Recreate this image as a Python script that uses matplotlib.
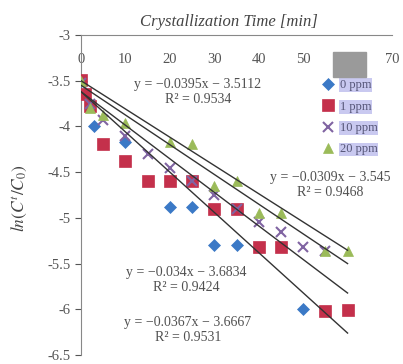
import numpy as np
import matplotlib
matplotlib.use('Agg')
import matplotlib.pyplot as plt
from matplotlib.patches import Rectangle

plt.rcParams['font.family'] = ['Liberation Serif', 'DejaVu Serif']
plt.rcParams['mathtext.fontset'] = 'stix'
plt.rcParams['axes.unicode_minus'] = False

# series (time in min, ln(Ct/C0))
t_0ppm = [0, 3, 10, 20, 25, 30, 35, 50]
v_0ppm = [-3.5, -4.0, -4.17, -4.88, -4.88, -5.3, -5.3, -6.0]

t_1ppm = [0, 1, 2, 5, 10, 15, 20, 25, 30, 35, 40, 45, 55, 60]
v_1ppm = [-3.49, -3.65, -3.78, -4.19, -4.38, -4.6, -4.6, -4.6, -4.9, -4.9,
          -5.32, -5.32, -6.02, -6.01]

t_10ppm = [0, 2, 5, 10, 15, 20, 25, 30, 35, 40, 45, 50, 55]
v_10ppm = [-3.52, -3.75, -3.93, -4.1, -4.3, -4.45, -4.6, -4.75, -4.9,
           -5.05, -5.15, -5.32, -5.36]

t_20ppm = [0, 2, 5, 10, 20, 25, 30, 35, 40, 45, 55, 60]
v_20ppm = [-3.5, -3.8, -3.87, -3.96, -4.17, -4.19, -4.65, -4.6, -4.95,
           -4.95, -5.36, -5.36]

labels = ['0 ppm', '1 ppm', '10 ppm', '20 ppm']

# trendlines as they sit in the picture (slope, intercept), drawn 0..60 min
trend_slope = [-0.044, -0.0367, -0.0325, -0.0309]
trend_icpt = [-3.62, -3.62, -3.55, -3.5]
trend_span = [0, 60]

eq_texts = ['y = \u22120.0395x \u2212 3.5112\nR\u00b2 = 0.9534',
            'y = \u22120.0309x \u2212 3.545\nR\u00b2 = 0.9468',
            'y = \u22120.034x \u2212 3.6834\nR\u00b2 = 0.9424',
            'y = \u22120.0367x \u2212 3.6667\nR\u00b2 = 0.9531']

fig = plt.figure(figsize=(4.03, 3.64), dpi=100)
ax = fig.add_axes([81 / 403, 1 - 355 / 364, (392 - 81) / 403, (355 - 35) / 364])

series = [
    (t_0ppm, v_0ppm, 'D', '#3B79C6', 6.5),
    (t_1ppm, v_1ppm, 's', '#C4304B', 8.5),
    (t_10ppm, v_10ppm, 'x', '#8064A2', 6.5),
    (t_20ppm, v_20ppm, '^', '#9BBB59', 7.5),
]

handles = []
for (tt, vv, mk, col, ms), lab in zip(series, labels):
    h, = ax.plot(tt, vv, linestyle='none', marker=mk, color=col,
                 markersize=ms, markeredgewidth=1.5 if mk == 'x' else 0.5,
                 label=lab, zorder=3)
    handles.append(h)

xs = np.array(trend_span)
for k, b in zip(trend_slope, trend_icpt):
    ax.plot(xs, k * xs + b, color='#333333', linewidth=1.0, zorder=4)

ax.set_xlim(0, 70)
ax.set_ylim(-6.5, -3)
ax.set_xticks(range(0, 71, 10))
ax.set_yticks(np.arange(-6.5, -2.9, 0.5))
ax.set_yticklabels(['-6.5', '-6', '-5.5', '-5', '-4.5', '-4', '-3.5', '-3'])

ax.spines['right'].set_visible(False)
ax.spines['bottom'].set_visible(False)
ax.spines['top'].set_color('#888888')
ax.spines['left'].set_color('#888888')
ax.xaxis.set_ticks_position('top')
ax.tick_params(axis='x', length=0, pad=-22, labelsize=10.5, colors='#555555')
ax.tick_params(axis='y', length=4, labelsize=10.5, colors='#555555')

fig.text(229 / 403, 1 - 22 / 364, 'Crystallization Time [min]', ha='center',
         va='center', fontsize=12, style='italic', color='#444444')
fig.text(19 / 403, 1 - 198 / 364, r'$ln(C^t/C_0)$', rotation=90,
         ha='center', va='center', fontsize=12.5, color='#444444')

eq_pos = [(198, 92), (330, 185), (186, 280), (188, 330)]
for txt, (px, py) in zip(eq_texts, eq_pos):
    fig.text(px / 403, 1 - py / 364, txt, ha='center', va='center',
             fontsize=10, color='#505050', linespacing=1.2)

# grey block over the "60" label
fig.patches.append(Rectangle((333 / 403, 1 - 77 / 364), 33 / 403, 25 / 364,
                             transform=fig.transFigure, color='#9A9A9A',
                             zorder=5))

leg = ax.legend(handles=handles, loc='upper left',
                bbox_to_anchor=(316 / 403, 1 - 73 / 364),
                bbox_transform=fig.transFigure, frameon=False, fontsize=9,
                handlelength=0.9, handletextpad=0.5, labelspacing=0.75,
                borderpad=0)
for text in leg.get_texts():
    text.set_bbox(dict(facecolor='#C9C9F0', edgecolor='none', pad=0.6))
    text.set_color('#555577')

fig.savefig('out.png', dpi=100)
